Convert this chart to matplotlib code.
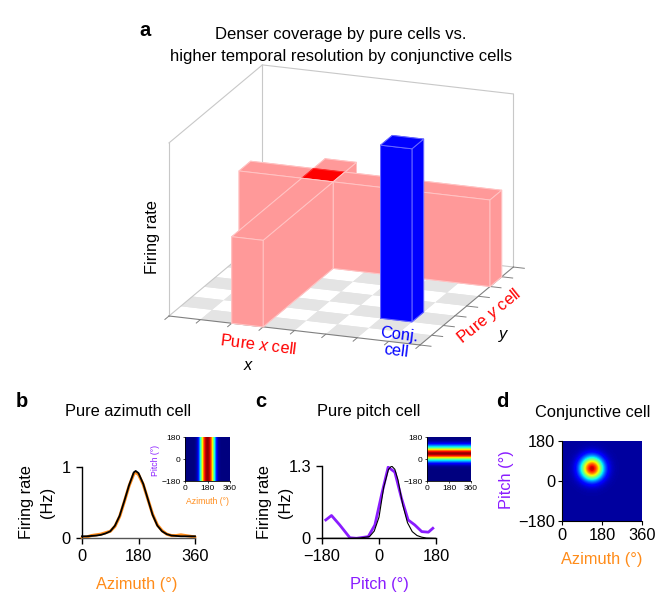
import numpy as np
import matplotlib
matplotlib.use('Agg')
import matplotlib.pyplot as plt
from mpl_toolkits.mplot3d import proj3d

plt.rcParams['font.family'] = ['Liberation Sans', 'DejaVu Sans']
plt.rcParams['mathtext.fontset'] = 'custom'
plt.rcParams['mathtext.it'] = 'Liberation Sans:italic'
plt.rcParams['mathtext.rm'] = 'Liberation Sans'

# ---------- data ----------
n_cells = 8
pure_x_col = 2
pure_y_row = 6
conj_col, conj_row = 6, 2
pure_rate = 0.5
conj_rate = 1.0

az_b = [0,15,30,45,60,75,90,105,120,135,150,165,171,180,195,210,225,240,255,270,285,300,315,330,345,360]
fit_b = [.02,.02,.025,.03,.04,.06,.09,.17,.31,.52,.74,.92,.94,.91,.76,.54,.32,.17,.09,.05,.03,.025,.02,.02,.02,.02]
rate_b = [0,.01,.03,.04,.05,.07,.09,.16,.30,.51,.73,.90,.92,.89,.75,.54,.33,.18,.10,.05,.03,.03,.04,.03,.02,.01]

pitch_c = [-168,-150,-124,-92,-71,-34,-13,8,29,50,71,92,113,135,156,170]
rate_c = [.33,.41,.24,.01,0,.03,.24,.78,1.28,1.19,.72,.33,.24,.12,.11,.18]
pitch_fit_c = [-180,-90,-60,-30,-15,0,15,30,40,50,60,75,90,105,120,135,150,180]
fit_c = [0,0,.005,.03,.13,.38,.92,1.24,1.3,1.24,1.05,.6,.28,.12,.05,.02,.005,0]

# heat maps: one value every 15 degrees, from 0 to 360 (azimuth) and -180 to 180 (pitch)
inset_b_profile = [0,0,0,0,0,.005,.02,.09,.33,.55,.83,.95,1,.95,.83,.55,.33,.09,.02,.005,0,0,0,0,0]
inset_c_profile = [0,0,0,0,0,0,0,.005,.02,.07,.17,.32,.46,.72,.93,1,.93,.72,.46,.32,.17,.07,.02,.005,0]
conj_az_profile = [.0004,.002,.009,.03,.088,.211,.416,.677,.907,1,.907,.677,.416,.211,.088,.03,.009,.002,.0004,0,0,0,0,0,0]
conj_pitch_profile = [0,0,0,0,0,0,0,.001,.004,.014,.047,.127,.283,.518,.78,.966,.985,.827,.571,.325,.152,.058,.019,.005,.001]

ORANGE = '#FF8C1A'
PURPLE = '#8A1CFF'
FS = 11.8
W, H = 670, 599

fig = plt.figure(figsize=(W/100, H/100), dpi=100)

def T(px, py, s, **kw):
    kw.setdefault('ha', 'center'); kw.setdefault('va', 'center'); kw.setdefault('fontsize', FS)
    if kw.get('rotation') == 90:
        px += 2
    else:
        py += 1.5
    return fig.text(px/W, 1-py/H, s, **kw)

def axpx(x0, y0, x1, y1):
    """axes from pixel box (left, top, right, bottom)"""
    return fig.add_axes([x0/W, 1-y1/H, (x1-x0)/W, (y1-y0)/H])

# ---------- panel a ----------
ax = fig.add_axes([0, 0, 1, 1], projection='3d', computed_zorder=False)
ax.set_proj_type('ortho')
ax.view_init(elev=18.1, azim=-69.6)
ax.set_xlim(0, n_cells); ax.set_ylim(0, n_cells); ax.set_zlim(0, 1)
ax.set_axis_off()

def pix(x, y, z):
    a, b, _ = proj3d.proj_transform(x, y, z, ax.get_proj())
    d = ax.transData.transform((a, b))
    return np.array([d[0], H - d[1]])

zoom = 1.0
ax.set_box_aspect((1, 1, 0.68), zoom=zoom)
fig.canvas.draw()
zoom *= 251 / (pix(n_cells, 0, 0) - pix(0, 0, 0))[0]
ax.set_box_aspect((1, 1, 0.68), zoom=zoom)
fig.canvas.draw()
off = np.array([169, 316]) - pix(0, 0, 0)
p = ax.get_position()
ax.set_position([p.x0 + off[0]/W, p.y0 - off[1]/H, p.width, p.height])
fig.canvas.draw()

for i in range(n_cells):
    for j in range(n_cells):
        if (i + j) % 2:
            ax.bar3d(i, j, 0, 1, 1, 0, color='#E4E4E4', shade=False, zorder=1)

GL = '#C8C8C8'
for xs, ys, zs, c in [([0, 0], [0, 0], [0, 1], GL), ([0, 0], [n_cells, n_cells], [0, 1], GL),
                      ([n_cells, n_cells], [n_cells, n_cells], [0, 1], GL),
                      ([0, 0], [0, n_cells], [1, 1], GL), ([0, n_cells], [n_cells, n_cells], [1, 1], GL),
                      ([0, 0], [0, n_cells], [0, 0], GL), ([0, n_cells], [n_cells, n_cells], [0, 0], GL),
                      ([0, n_cells], [0, 0], [0, 0], '#808080'), ([n_cells, n_cells], [0, n_cells], [0, 0], '#808080')]:
    ax.plot(xs, ys, zs, color=c, lw=0.8, zorder=2)
for k in range(n_cells + 1):
    ax.plot([k, k], [0, -0.35], [0, 0], color='#808080', lw=0.7, zorder=2)
    ax.plot([n_cells, n_cells + 0.35], [k, k], [0, 0], color='#808080', lw=0.7, zorder=2)

PINK, PE = '#FF9999', '#FFC4C4'
pieces = [
    (pure_x_col, pure_y_row + 1, 1, n_cells - pure_y_row - 1, pure_rate, PINK, PE),
    (0, pure_y_row, pure_x_col, 1, pure_rate, PINK, PE),
    (pure_x_col, pure_y_row, 1, 1, pure_rate, '#FF0000', '#FF3030'),
    (pure_x_col + 1, pure_y_row, n_cells - pure_x_col - 1, 1, pure_rate, PINK, PE),
    (pure_x_col, 0, 1, pure_y_row, pure_rate, PINK, PE),
    (conj_col, conj_row, 1, 1, conj_rate, '#0000FF', '#6A6AFF'),
]
for zo, (x, y, dx, dy, dz, c, e) in enumerate(pieces, start=3):
    ax.bar3d(x, y, 0, dx, dy, dz, color=c, edgecolor=e, linewidth=0.7, shade=False, zorder=zo)

T(145, 29, 'a', fontweight='bold', fontsize=14.5)
T(341, 33, 'Denser coverage by pure cells vs.', fontsize=12)
T(341, 55, 'higher temporal resolution by conjunctive cells', fontsize=12)
T(150, 237, 'Firing rate', rotation=90)
T(258, 343, r'Pure $\mathit{x}$ cell', color='#FF0000', rotation=-7)
T(249, 364, r'$\mathit{x}$')
T(399, 333, 'Conj.', color='#0000FF', rotation=-7)
T(396, 350, 'cell', color='#0000FF', rotation=-7)
T(489, 315, r'Pure $\mathit{y}$ cell', color='#FF0000', rotation=39)
T(504, 335, r'$\mathit{y}$')

def style(a, lw=1.0):
    a.spines['top'].set_visible(False); a.spines['right'].set_visible(False)
    a.spines['left'].set_linewidth(lw); a.spines['bottom'].set_linewidth(lw)
    a.tick_params(length=4, width=lw, labelsize=FS, pad=4)
    a.patch.set_alpha(0)

def heat(box, Z, vmin=0, small=True):
    a = axpx(*box)
    a.imshow(Z, origin='lower', extent=(-7.5, 367.5, -187.5, 187.5), aspect='auto',
             cmap='jet', vmin=vmin, vmax=1, interpolation='bicubic', interpolation_stage='data')
    a.set_xlim(0, 360); a.set_ylim(-180, 180)
    a.set_xticks([0, 180, 360]); a.set_xticklabels(['0', '180', '360'])
    a.set_yticks([-180, 0, 180]); a.set_yticklabels(['\u2212180', '0', '180'])
    for s in ['top', 'right']:
        a.spines[s].set_visible(False)
    if small:
        a.tick_params(length=1.5, width=0.5, labelsize=6.1, pad=1.5)
        for s in ['left', 'bottom']:
            a.spines[s].set_linewidth(0.6)
    else:
        a.tick_params(length=3, width=0.8, labelsize=FS, pad=2)
        for s in ['left', 'bottom']:
            a.spines[s].set_linewidth(0.8)
    return a

# ---------- panel b ----------
T(22, 400, 'b', fontweight='bold', fontsize=14.5)
T(128, 410, 'Pure azimuth cell')
b = axpx(82, 466.7, 195, 537.7)
b.plot(az_b, rate_b, color=ORANGE, lw=2.2, solid_capstyle='round', clip_on=False)
b.plot(az_b, fit_b, color='black', lw=1.3, clip_on=False)
b.set_xlim(0, 360); b.set_ylim(0, 1)
b.set_xticks([0, 180, 360]); b.set_xticklabels(['0', '180', '360'])
b.set_yticks([0, 1]); b.set_yticklabels(['0', '1'])
style(b)
b.spines['bottom'].set_color('#555555')
T(25, 502, 'Firing rate', rotation=90)
T(45, 502, '(Hz)', rotation=90)
T(137, 583, 'Azimuth (\u00b0)', color=ORANGE)
heat((185, 437, 230, 481), np.tile(inset_b_profile, (25, 1)))
T(207, 500.5, 'Azimuth (\u00b0)', color=ORANGE, fontsize=6.2)
T(154, 460, 'Pitch (\u00b0)', color=PURPLE, fontsize=6.2, rotation=90)

# ---------- panel c ----------
T(261, 400, 'c', fontweight='bold', fontsize=14.5)
T(369, 410, 'Pure pitch cell')
c = axpx(322, 466, 436, 538.3)
c.plot(pitch_c, rate_c, color=PURPLE, lw=2.0)
c.plot(pitch_fit_c, fit_c, color='black', lw=0.8)
c.set_xlim(-180, 180); c.set_ylim(0, 1.3)
c.set_xticks([-180, 0, 180]); c.set_xticklabels(['\u2212180', '0', '180'])
c.set_yticks([0, 1.3]); c.set_yticklabels(['0', '1.3'])
style(c)
T(262, 502, 'Firing rate', rotation=90)
T(284, 502, '(Hz)', rotation=90)
T(379, 583, 'Pitch (\u00b0)', color=PURPLE)
heat((427, 437, 471, 481), np.tile(np.array(inset_c_profile)[:, None], (1, 25)))

# ---------- panel d ----------
T(502, 400, 'd', fontweight='bold', fontsize=14.5)
T(593, 411, 'Conjunctive cell')
heat((562, 441, 642, 521), np.outer(conj_pitch_profile, conj_az_profile), vmin=-0.03, small=False)
T(602, 558, 'Azimuth (\u00b0)', color=ORANGE)
T(505, 480, 'Pitch (\u00b0)', color=PURPLE, rotation=90)

fig.savefig('out.png', dpi=100)
